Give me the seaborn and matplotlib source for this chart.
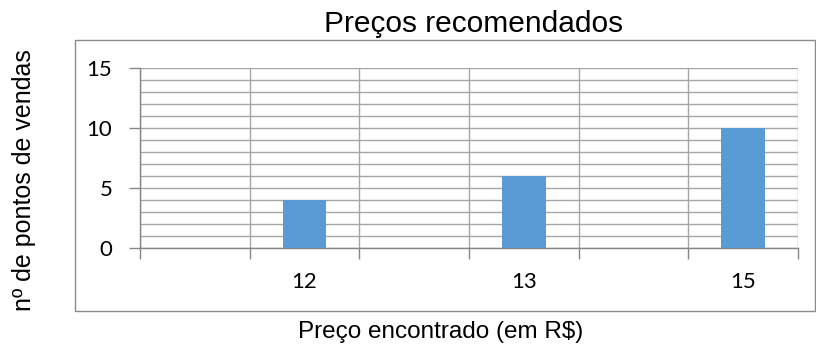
import matplotlib
matplotlib.use('Agg')
import matplotlib.pyplot as plt
from matplotlib.patches import Rectangle
from matplotlib.ticker import MultipleLocator, FixedLocator
import seaborn as sns
import pandas as pd

# data (blank categories hold no bars)
price_labels = ['', '12', '', '13', '', '15']
sales_points = [0, 4, 0, 6, 0, 10]
y_ticks = [0, 5, 10, 15]

title = 'Preços recomendados'
x_label = 'Preço encontrado (em R$)'
y_label = 'nº de pontos de vendas'

bar_color = '#5b9bd5'
grid_color = '#a6a6a6'
axis_color = '#868686'


def main():
    sns.set_style('white')
    plt.rcParams['font.family'] = ['Liberation Sans', 'DejaVu Sans']
    plt.rcParams['text.color'] = 'black'

    df = pd.DataFrame({'pos': range(len(price_labels)), 'count': sales_points})

    fig = plt.figure(figsize=(8.16, 3.45), dpi=100)
    ax = fig.add_axes([140/816, 1 - 248.3/345, (798 - 140)/816, (248.3 - 68.3)/345])

    sns.barplot(data=df, x='pos', y='count', color=bar_color, width=0.4,
                saturation=1, linewidth=0, ax=ax, zorder=3)
    ax.set_xlim(-0.5, len(price_labels) - 0.5)
    ax.set_ylim(0, 15)

    # ticks and gridlines between the categories, labels in the middle
    ax.xaxis.set_major_locator(FixedLocator([i - 0.5 for i in range(len(price_labels) + 1)]))
    ax.xaxis.set_minor_locator(FixedLocator(list(range(len(price_labels)))))
    ax.set_xticklabels([])
    ax.set_xticklabels(price_labels, minor=True, family='Lato', fontsize=16, color='black')
    ax.tick_params(axis='x', which='major', length=8, width=1, color=axis_color, direction='out', bottom=True)
    ax.tick_params(axis='x', which='minor', length=0, pad=17)

    ax.set_yticks(y_ticks)
    ax.set_yticklabels([str(v) for v in y_ticks], family='Lato', fontsize=16, color='black')
    ax.yaxis.set_minor_locator(MultipleLocator(1))
    ax.tick_params(axis='y', which='major', length=8, width=1, color=axis_color, direction='out', left=True, pad=12)
    ax.tick_params(axis='y', which='minor', length=0)

    ax.grid(True, which='both', axis='y', color=grid_color, lw=1)
    ax.grid(True, which='major', axis='x', color=grid_color, lw=1)
    ax.set_axisbelow(True)

    for side in ['top', 'right']:
        ax.spines[side].set_visible(False)
    for side in ['left', 'bottom']:
        ax.spines[side].set_color(axis_color)
        ax.spines[side].set_linewidth(1)
    ax.set_xlabel('')
    ax.set_ylabel('')

    # chart border
    fig.patches.append(Rectangle((75/816, 1 - 311/345), (815 - 75)/816, (311 - 40)/345,
                                 transform=fig.transFigure, fill=False,
                                 edgecolor='#8c8c8c', lw=1))

    fig.text(474/816, 1 - 32/345, title, ha='center', va='baseline', fontsize=21.5)
    fig.text(441/816, 1 - 338/345, x_label, ha='center', va='baseline', fontsize=17.5)
    fig.text(24/816, 1 - 180/345, y_label, ha='center', va='center', rotation=90, fontsize=18)

    plt.savefig('out.png', dpi=100)
    plt.close()


if __name__ == '__main__':
    main()
